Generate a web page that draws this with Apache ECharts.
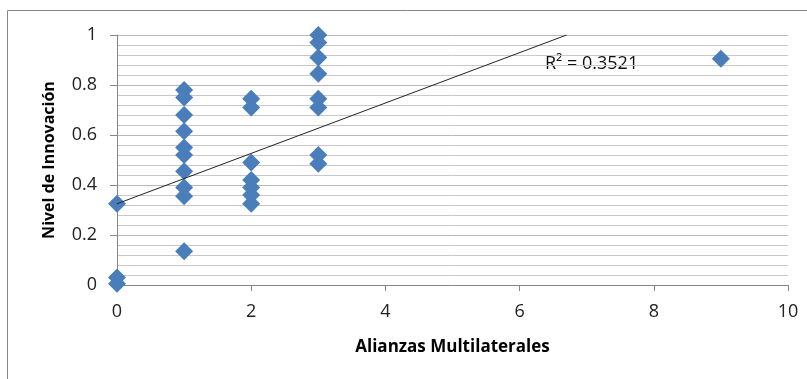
<!DOCTYPE html>
<html>
<head>
<meta charset="utf-8">
<script src="https://cdn.jsdelivr.net/npm/echarts@6/dist/echarts.min.js"></script>
<style>
  html, body { margin: 0; padding: 0; background: #fff; }
  #chart { width: 807px; height: 379px; }
</style>
</head>
<body>
<div id="chart"></div>
<script>
// values
const alianzas = [0, 0, 0,
  1, 1, 1, 1, 1, 1, 1, 1, 1, 1,
  2, 2, 2, 2, 2, 2, 2,
  3, 3, 3, 3, 3, 3, 3, 3,
  9];
const innovacion = [0.325, 0.03, 0.005,
  0.78, 0.75, 0.68, 0.615, 0.55, 0.52, 0.455, 0.39, 0.355, 0.135,
  0.745, 0.71, 0.49, 0.42, 0.39, 0.36, 0.325,
  1.0, 0.97, 0.91, 0.845, 0.745, 0.71, 0.52, 0.485,
  0.905];
// trend line ends as drawn (clipped at the top of the axis)
const trendX = [0, 6.7];
const trendY = [0.325, 1.0];
const r2Label = 'R² = 0.3521';

const points = alianzas.map((x, i) => [x, innovacion[i]]);
const trend = trendX.map((x, i) => [x, trendY[i]]);

const font = '"Open Sans", "Liberation Sans", sans-serif';
const chart = echarts.init(document.getElementById('chart'));
chart.setOption({
  animation: false,
  grid: { left: 117, right: 19, top: 35, bottom: 94 },
  xAxis: {
    type: 'value', min: 0, max: 10, interval: 2,
    name: 'Alianzas Multilaterales', nameLocation: 'middle', nameGap: 54,
    nameTextStyle: { fontFamily: font, fontSize: 17, fontWeight: 'bold', color: '#000' },
    axisLine: { lineStyle: { color: '#868686' } },
    axisTick: { show: true, length: 6, lineStyle: { color: '#868686' } },
    axisLabel: { fontFamily: font, fontSize: 18, color: '#222', margin: 18 },
    splitLine: { show: false }
  },
  yAxis: {
    type: 'value', min: 0, max: 1, interval: 0.2,
    name: 'Nivel de Innovación', nameLocation: 'middle', nameGap: 60, nameRotate: 90,
    nameTextStyle: { fontFamily: font, fontSize: 16, fontWeight: 'bold', color: '#000' },
    axisLine: { show: true, lineStyle: { color: '#868686' } },
    axisTick: { show: true, length: 7, lineStyle: { color: '#868686' } },
    axisLabel: { fontFamily: font, fontSize: 18, color: '#222', margin: 20 },
    splitLine: { show: true, lineStyle: { color: '#b8b8b8' } },
    minorTick: { show: false, splitNumber: 5 },
    minorSplitLine: { show: true, lineStyle: { color: '#c8c8c8' } }
  },
  graphic: [
    {
      type: 'rect', silent: true, z: -1,
      shape: { x: 7.5, y: 10.5, width: 830, height: 400 },
      style: { fill: 'none', stroke: '#868686', lineWidth: 1 }
    },
    {
      type: 'text', left: 545, top: 55,
      style: { text: r2Label, fontFamily: font, fontSize: 18, fill: '#111' }
    }
  ],
  series: [
    {
      type: 'scatter', data: points, symbol: 'diamond', symbolSize: 18,
      itemStyle: { color: '#4a7ebb', opacity: 1 }, z: 3
    },
    {
      type: 'line', data: trend, symbol: 'none', silent: true, z: 4,
      lineStyle: { color: '#222', width: 1 }
    }
  ]
});
</script>
</body>
</html>
